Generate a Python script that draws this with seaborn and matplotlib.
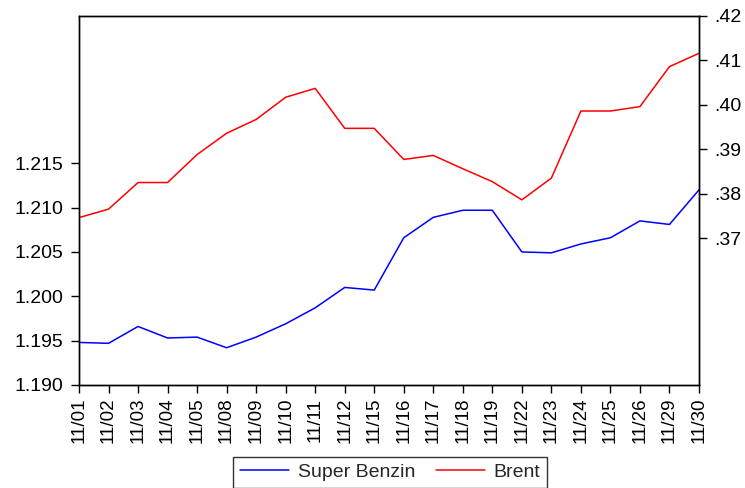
import matplotlib
matplotlib.use("Agg")
import matplotlib.pyplot as plt
import seaborn as sns
import pandas as pd
import numpy as np

dates = ["11/01", "11/02", "11/03", "11/04", "11/05", "11/08", "11/09", "11/10",
         "11/11", "11/12", "11/15", "11/16", "11/17", "11/18", "11/19", "11/22",
         "11/23", "11/24", "11/25", "11/26", "11/29", "11/30"]
super_benzin = [1.1948, 1.1947, 1.1966, 1.1953, 1.1954, 1.1942, 1.1954, 1.1969,
                1.1987, 1.2010, 1.2007, 1.2066, 1.2089, 1.2097, 1.2097, 1.2050,
                1.2049, 1.2059, 1.2066, 1.2085, 1.2081, 1.2120]
brent = [0.3746, 0.3765, 0.3825, 0.3825, 0.3888, 0.3936, 0.3967, 0.4017,
         0.4037, 0.3947, 0.3947, 0.3877, 0.3886, 0.3856, 0.3827, 0.3786,
         0.3835, 0.3986, 0.3986, 0.3996, 0.4086, 0.4116]
left_ticks = [1.190, 1.195, 1.200, 1.205, 1.210, 1.215]
right_ticks = [0.37, 0.38, 0.39, 0.40, 0.41, 0.42]

df = pd.DataFrame({"idx": np.arange(len(dates)), "date": dates,
                   "Super Benzin": super_benzin, "Brent": brent})

sns.set_style("ticks")
plt.rcParams['font.family'] = ['Liberation Sans', 'DejaVu Sans']

fig = plt.figure(figsize=(7.45, 4.88), dpi=100)
ax = fig.add_axes([79/745, 1 - 385/488, 620/745, 369/488])
ax2 = ax.twinx()

sns.lineplot(data=df, x="idx", y="Super Benzin", ax=ax, color="#0000ff", lw=1.1, label="Super Benzin", legend=False)
sns.lineplot(data=df, x="idx", y="Brent", ax=ax2, color="#ff0000", lw=1.1, label="Brent", legend=False)

ax.set_xlim(0, len(dates) - 1)
ax.set_ylim(1.190, 1.2316)
ax2.set_ylim(0.3369, 0.42)

ax.set_xticks(df["idx"])
ax.set_xticklabels(dates, rotation=90)
ax.set_yticks(left_ticks)
ax.set_yticklabels([f"{v:.3f}" for v in left_ticks])
ax2.set_yticks(right_ticks)
ax2.set_yticklabels([f"{v:.2f}"[1:] for v in right_ticks])

ax.set_xlabel("")
ax.set_ylabel("")
ax2.set_ylabel("")

for a in (ax, ax2):
    for s in a.spines.values():
        s.set_visible(True)
        s.set_color("black")
        s.set_linewidth(1.0)
    a.tick_params(direction="out", length=6, width=1, colors="black", labelsize=14, pad=5)
ax.tick_params(axis="x", labelsize=13.5, length=6, pad=3)
ax.grid(False)
ax2.grid(False)

h1, l1 = ax.get_legend_handles_labels()
h2, l2 = ax2.get_legend_handles_labels()
leg = fig.legend(h1 + h2, l1 + l2, loc="lower center", ncol=2,
                 bbox_to_anchor=(0.524, -0.012), frameon=True, fancybox=False,
                 edgecolor="black", fontsize=14, handlelength=2.5,
                 borderpad=0.35, borderaxespad=0.3, columnspacing=1.1, handletextpad=0.45)
leg.get_frame().set_linewidth(1.0)

fig.savefig("out.png", dpi=100)
